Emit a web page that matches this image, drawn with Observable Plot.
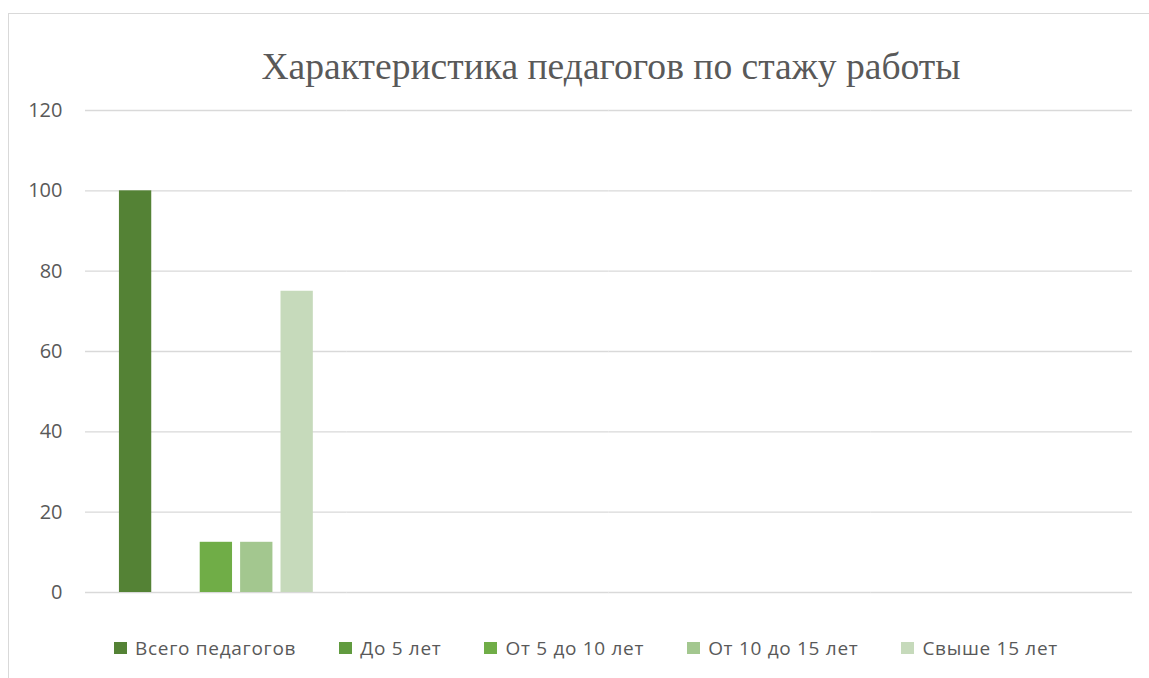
<!DOCTYPE html>
<html>
<head>
<meta charset="utf-8">
<script src="https://cdn.jsdelivr.net/npm/d3@7"></script>
<script src="https://cdn.jsdelivr.net/npm/@observablehq/plot@0.6"></script>
<style>
  html, body { margin: 0; padding: 0; background: #fff; width: 1149px; height: 678px; overflow: hidden; }
  #frame { position: absolute; left: 8px; top: 13px; width: 1200px; height: 700px; border: 1px solid #D9D9D9; box-sizing: border-box; }
  #title { position: absolute; left: 0; width: 1222px; top: 45px; text-align: center; font-family: "Liberation Serif", "DejaVu Serif", serif; font-size: 37.6px; color: #595959; white-space: nowrap; }
  #chart { position: absolute; left: 0; top: 90px; }
  #legend { position: absolute; left: 114px; top: 635px; display: flex; font-family: "Open Sans", sans-serif; font-size: 19px; letter-spacing: 0.7px; color: #595959; white-space: nowrap; }
  .item { display: flex; align-items: center; margin-right: 43px; }
  .sw { width: 13px; height: 12px; margin-right: 8px; }
</style>
</head>
<body>
<div id="frame"></div>
<div id="title">Характеристика педагогов по стажу работы</div>
<div id="chart"></div>
<div id="legend"></div>
<script>
const categories = ["1", "2", "3", "4"];
const series = ["Всего педагогов", "До 5 лет", "От 5 до 10 лет", "От 10 до 15 лет", "Свыше 15 лет"];
const colors = ["#548235", "#619B3F", "#70AD47", "#A3C78F", "#C6DABB"];
// values per series, one per category (only the first category has data)
const vTotal = [100, null, null, null];
const vUnder5 = [0, null, null, null];
const v5to10 = [12.5, null, null, null];
const v10to15 = [12.5, null, null, null];
const vOver15 = [75, null, null, null];
const yTicks = [0, 20, 40, 60, 80, 100, 120];

const valuesBySeries = [vTotal, vUnder5, v5to10, v10to15, vOver15];
const data = [];
categories.forEach((c, i) => {
  series.forEach((s, j) => {
    data.push({category: c, series: s, value: valuesBySeries[j][i]});
  });
});

const chart = Plot.plot({
  width: 1149,
  height: 530,
  marginTop: 20,
  marginBottom: 28,
  marginLeft: 85,
  marginRight: 17,
  style: {fontFamily: "'Open Sans', sans-serif", fontSize: "20px", color: "#595959", background: "transparent"},
  fx: {domain: categories, padding: 0, round: false, axis: null, label: null},
  x: {domain: series, paddingInner: 0.2, paddingOuter: 0.84, round: false, axis: null, label: null},
  y: {domain: [0, 120], ticks: yTicks, axis: null, label: null},
  color: {domain: series, range: colors},
  facet: {data, x: "category"},
  marks: [
    Plot.ruleY(yTicks, {stroke: "#D9D9D9", strokeWidth: 1.3}),
    Plot.barY(data, {fx: "category", x: "series", y: "value", fill: "series",
      filter: d => d.value != null}),
    Plot.axisY(yTicks, {tickSize: 0, tickPadding: 23, fill: "#595959", fontSize: 20, label: null, facetAnchor: "left"})
  ]
});
document.getElementById("chart").appendChild(chart);

const legend = document.getElementById("legend");
series.forEach((s, i) => {
  const item = document.createElement("div");
  item.className = "item";
  const sw = document.createElement("div");
  sw.className = "sw";
  sw.style.background = colors[i];
  const t = document.createElement("span");
  t.textContent = s;
  item.appendChild(sw);
  item.appendChild(t);
  legend.appendChild(item);
});
</script>
</body>
</html>
